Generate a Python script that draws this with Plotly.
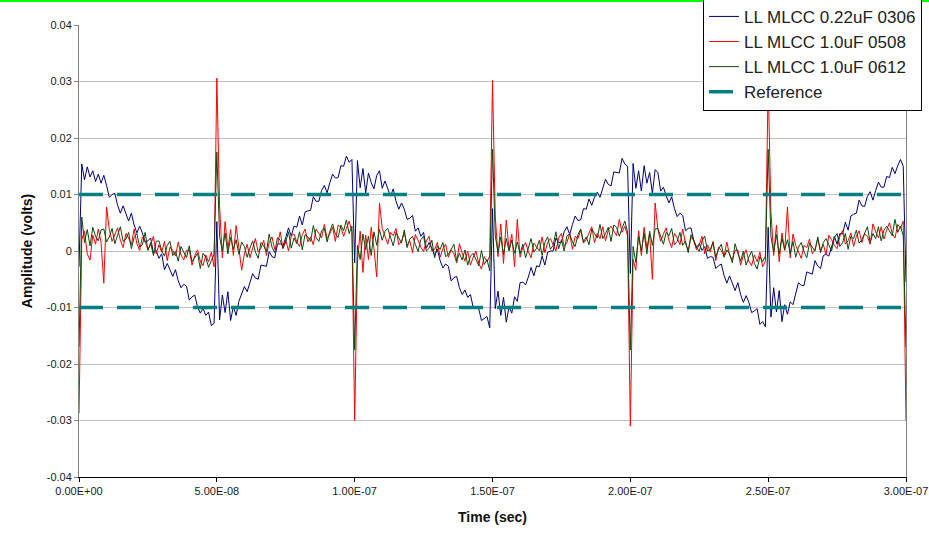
import plotly.graph_objects as go

# Sample grid: 1 ns steps from 0 to 300 ns
time_ns = list(range(0, 301))
time_s = [t * 1e-9 for t in time_ns]

# Measured amplitudes in millivolts, one value per nanosecond
mlcc_022uf_0306_mv = [
    -2.8, 15.4, 12.6, 14.9, 13.1, 14.2, 12.3, 13.6, 12.0, 13.4,
    11.6, 9.5, 10.0, 10.2, 8.1, 6.7, 8.0, 6.7, 5.3, 6.7,
    4.6, 3.2, 4.4, 3.2, 1.5, 1.8, 2.3, -0.4, 0.1, -1.3,
    -0.5, -3.3, -2.2, -3.3, -4.5, -3.3, -5.3, -6.5, -5.9, -6.2,
    -8.7, -8.1, -7.8, -9.9, -11.0, -10.1, -11.4, -10.8, -13.2, -12.8,
    5.2, -12.2, -7.8, -10.9, -7.2, -12.3, -9.8, -11.4, -8.9, -7.6,
    -6.3, -7.2, -5.5, -4.0, -4.8, -5.0, -2.5, -2.6, -2.7, -0.1,
    -1.0, -1.2, 1.2, 1.3, 0.9, 2.4, 4.1, 2.6, 4.4, 4.2,
    6.2, 4.6, 6.9, 7.1, 7.2, 9.6, 8.8, 8.8, 10.7, 11.6,
    10.3, 12.1, 13.6, 12.9, 13.0, 15.1, 15.0, 16.8, 15.7, 16.2,
    -2.1, 16.0, 11.2, 14.6, 10.3, 13.8, 12.1, 11.0, 13.4, 14.2,
    11.1, 12.4, 11.0, 9.7, 11.0, 8.8, 7.4, 8.5, 7.4, 5.6,
    5.8, 6.3, 3.5, 4.1, 2.6, 3.3, 0.5, 1.5, 0.5, -0.8,
    0.3, -1.7, -3.0, -2.3, -2.7, -5.3, -4.7, -4.5, -6.5, -7.7,
    -6.9, -8.2, -7.7, -10.0, -9.9, -10.2, -12.3, -11.9, -11.6, -13.6,
    7.5, -10.2, -7.1, -11.4, -8.2, -12.6, -9.9, -11.0, -8.1, -8.9,
    -5.6, -5.5, -6.0, -4.6, -2.9, -4.4, -2.6, -2.8, -0.9, -2.5,
    -0.2, 0.0, 0.0, 2.3, 1.5, 1.5, 3.4, 4.3, 2.9, 4.7,
    6.2, 5.4, 5.5, 7.5, 7.4, 9.2, 8.1, 9.5, 10.4, 9.5,
    11.2, 12.7, 11.8, 11.5, 14.0, 13.9, 13.8, 16.4, 15.4, 15.0,
    -4.0, 15.5, 11.1, 14.2, 10.6, 15.1, 12.0, 13.9, 10.2, 14.4,
    13.9, 10.6, 11.3, 9.8, 8.5, 9.6, 7.5, 6.1, 6.7, 6.3,
    3.6, 4.0, 4.1, 1.9, 0.6, 1.3, 0.1, 0.8, -1.3, -1.0,
    -1.1, -3.1, -2.6, -2.3, -4.3, -5.7, -4.4, -5.7, -7.0, -5.6,
    -7.7, -9.1, -7.9, -9.1, -10.9, -10.6, -10.2, -13.0, -12.5, -13.4,
    4.2, -11.7, -6.5, -10.8, -7.0, -12.5, -9.5, -11.2, -9.0, -9.5,
    -7.4, -5.6, -6.1, -6.1, -3.7, -3.9, -4.1, -1.7, -2.7, -3.1,
    -0.8, -0.6, -0.9, 0.7, 2.6, 1.2, 3.1, 3.0, 5.1, 3.7,
    6.2, 6.5, 6.7, 9.0, 8.0, 7.9, 9.7, 10.5, 9.0, 10.7,
    12.2, 11.3, 11.3, 13.2, 13.0, 14.8, 13.7, 15.1, 16.2, 15.0,
    -5.5,
]

mlcc_10uf_0508_mv = [
    -28.7, 2.0, 3.5, -0.5, -1.6, 2.8, 1.2, 3.9, 1.5, -5.7,
    7.8, 3.8, 1.7, 3.0, 4.1, 1.9, 0.6, 3.1, 2.3, 1.1,
    3.9, 1.3, 0.1, 2.5, 1.8, 0.2, 1.1, 2.6, -0.5, 1.1,
    -0.2, 1.7, -1.7, 0.7, 0.1, -0.9, 1.6, -0.7, -1.6, 0.1,
    0.2, -2.5, -0.8, 0.2, -1.8, -2.6, -0.7, -1.9, -0.2, -2.8,
    30.6, 8.0, -1.2, 5.2, 0.4, 3.8, -0.8, 4.5, 1.0, -3.4,
    -0.5, 1.2, -1.2, 0.5, 2.2, -0.2, 0.5, 1.9, -0.8, 1.5,
    2.5, 0.3, 1.0, 3.4, 0.4, 2.0, 0.0, 2.7, 3.0, 1.6,
    0.8, 2.9, 3.9, 1.6, 2.5, 1.1, 3.9, 3.1, 2.3, 4.7,
    2.2, 3.1, 4.2, 1.7, 4.6, 4.2, 2.6, 4.0, 5.3, 3.4,
    -30.0, -2.0, 3.5, -3.8, 2.8, -1.5, 4.2, 0.5, -4.6, 8.5,
    4.0, 2.6, 1.2, 3.3, 2.7, 4.0, 1.1, 1.7, 3.3, 1.0,
    1.8, -0.3, 2.9, 1.9, 0.7, -0.1, 1.8, 2.6, 0.0, 0.3,
    1.5, -1.1, 0.4, 1.2, -1.1, 0.2, -0.5, -2.1, 1.3, -0.4,
    -1.8, 0.0, -2.5, -1.1, 0.0, -2.2, -3.2, -1.0, -1.9, -0.9,
    30.2, 6.2, -1.0, 4.8, -2.2, 5.5, 0.2, 3.0, -2.8, 5.6,
    -1.1, 0.7, 1.5, -0.1, -1.2, 1.4, 0.7, 0.0, 2.5, -0.3,
    1.5, 2.2, 1.1, 0.0, 2.3, 3.1, 0.8, 1.5, 3.1, 0.3,
    2.6, 2.2, 3.7, 1.4, 2.0, 3.3, 4.3, 1.5, 3.1, 2.2,
    4.3, 1.8, 3.7, 4.4, 3.5, 2.7, 5.6, 3.3, 4.4, 2.7,
    -31.0, -1.5, -3.4, 3.6, -0.8, 4.2, 0.5, 3.0, -5.0, 8.5,
    3.8, 1.7, 3.0, 4.1, 1.9, 0.6, 3.1, 2.3, 1.1, 3.9,
    1.3, 0.1, 2.5, 1.8, 0.2, 1.1, 2.6, -0.5, 1.1, -0.2,
    1.7, -1.7, 0.7, 0.1, -0.9, 1.6, -0.7, -1.6, 0.1, 0.2,
    -2.5, -0.8, 0.2, -1.8, -2.6, -0.7, -1.9, -0.2, -2.8, -1.8,
    30.0, 7.0, -0.8, 4.6, -1.9, 3.2, 0.1, 7.8, -1.2, 3.0,
    1.0, -0.2, -1.3, 1.0, 0.6, 2.1, -0.5, 0.3, 2.1, 0.1,
    1.2, -0.7, 2.8, 2.0, 1.0, 0.4, 2.6, 3.6, 1.2, 1.8,
    3.2, 0.8, 2.6, 3.6, 1.5, 3.1, 2.6, 1.2, 4.8, 3.4,
    2.3, 4.3, 2.1, 3.7, 5.0, 3.1, 2.3, 4.7, 4.0, 5.3,
    -30.0,
]

mlcc_10uf_0612_mv = [
    -17.0, 6.0, 1.5, 3.8, 0.9, 4.2, 2.6, 1.8, 3.7, 3.9,
    1.6, 2.5, 4.0, 1.3, 2.8, 4.3, 1.7, 2.1, 3.3, 0.4,
    2.4, 3.1, 0.7, 1.1, 3.3, 0.1, 1.5, -0.8, 1.7, 1.8,
    0.1, -0.9, 1.0, 1.7, -0.8, -0.1, -1.8, 0.8, -0.2, -1.2,
    0.9, -1.9, -1.2, -0.4, -3.1, -0.4, -1.1, -2.9, -1.7, -0.6,
    17.5, 2.5, 0.0, 3.2, -0.5, 2.4, 0.3, 2.0, -0.6, 1.6,
    0.8, -1.1, 0.5, 1.8, -0.2, -1.3, 1.5, 0.9, -0.1, 3.0,
    0.7, -0.3, 2.4, 1.9, 0.5, 1.6, 3.4, 0.5, 2.3, 1.3,
    3.4, 0.2, 2.9, 2.5, 1.7, 4.5, 2.4, 1.7, 3.6, 4.0,
    1.6, 3.5, 4.8, 3.0, 2.4, 4.6, 3.6, 5.5, 3.1, 4.4,
    -17.5, 1.0, -1.5, 3.0, 0.2, 2.6, -0.8, 3.4, 1.0, 3.8,
    1.9, 3.5, 4.0, 2.2, 0.9, 3.3, 2.3, 1.4, 3.7, 0.6,
    2.1, 2.6, 1.2, -0.1, 2.0, 2.6, 0.0, 0.5, 1.9, -1.2,
    0.9, 0.3, 1.5, -1.0, -0.6, 0.4, 1.2, -1.8, -0.4, -1.6,
    0.2, -2.5, -0.9, -0.4, -1.5, -2.6, 0.1, -2.4, -1.5, -3.5,
    18.0, 2.8, -0.3, 2.5, -0.6, 2.2, 0.0, 1.9, -0.4, 1.6,
    -0.5, 1.2, -1.2, 0.5, 2.2, -0.2, 0.5, 1.9, -0.8, 1.5,
    2.5, 0.3, 1.0, 3.4, 0.4, 2.0, 0.0, 2.7, 3.0, 1.6,
    0.8, 2.9, 3.9, 1.6, 2.5, 1.1, 3.9, 3.1, 2.3, 4.7,
    2.2, 3.1, 4.2, 1.7, 4.6, 4.2, 2.6, 4.0, 5.3, 3.4,
    -17.5, 0.8, -2.0, 2.6, 0.0, 3.2, -0.5, 3.5, 1.0, 3.9,
    4.0, 2.6, 1.2, 3.3, 2.7, 4.0, 1.1, 1.7, 3.3, 1.0,
    1.8, -0.3, 2.9, 1.9, 0.7, -0.1, 1.8, 2.6, 0.0, 0.3,
    1.5, -1.1, 0.4, 1.2, -1.1, 0.2, -0.5, -2.1, 1.3, -0.4,
    -1.8, 0.0, -2.5, -1.1, 0.0, -2.2, -3.2, -1.0, -1.9, -0.9,
    18.0, 2.6, -0.2, 2.9, -0.5, 2.3, 0.2, 2.0, -0.5, 1.7,
    -1.1, 0.7, 1.5, -0.1, -1.2, 1.4, 0.7, 0.0, 2.5, -0.3,
    1.5, 2.2, 1.1, 0.0, 2.3, 3.1, 0.8, 1.5, 3.1, 0.3,
    2.6, 2.2, 3.7, 1.4, 2.0, 3.3, 4.3, 1.5, 3.1, 2.2,
    4.3, 1.8, 3.7, 4.4, 3.5, 2.7, 5.6, 3.3, 4.4, 2.7,
    -17.0,
]

# Reference limits (volts)
ref_upper = 0.01
ref_lower = -0.01

# Axis ticks
x_tickvals = [0, 5e-8, 1e-7, 1.5e-7, 2e-7, 2.5e-7, 3e-7]
x_ticktext = ["0.00E+00", "5.00E-08", "1.00E-07", "1.50E-07", "2.00E-07", "2.50E-07", "3.00E-07"]
y_tickvals = [0.04, 0.03, 0.02, 0.01, 0, -0.01, -0.02, -0.03, -0.04]
y_ticktext = ["0.04", "0.03", "0.02", "0.01", "0", "-0.01", "-0.02", "-0.03", "-0.04"]

FONT = "Liberation Sans, Arial, sans-serif"


def to_volts(values_mv):
    return [v / 1000.0 for v in values_mv]


series = [
    ("LL MLCC 0.22uF 0306", mlcc_022uf_0306_mv, "#000080"),
    ("LL MLCC 1.0uF 0508", mlcc_10uf_0508_mv, "#FF0000"),
    ("LL MLCC 1.0uF 0612", mlcc_10uf_0612_mv, "#0B4A0B"),
]

fig = go.Figure()
for name, values, color in series:
    fig.add_trace(go.Scatter(
        x=time_s, y=to_volts(values), mode="lines", name=name,
        line=dict(color=color, width=1),
    ))

t_end = time_s[-1]
fig.add_trace(go.Scatter(
    x=[0, t_end, None, 0, t_end],
    y=[ref_upper, ref_upper, None, ref_lower, ref_lower],
    mode="lines", name="Reference", connectgaps=False,
    line=dict(color="#008080", width=3.5, dash="24px,14px"),
))

fig.update_layout(
    width=929, height=533,
    margin=dict(l=79, r=23, t=25, b=56, autoexpand=False),
    paper_bgcolor="white", plot_bgcolor="white",
    font=dict(family=FONT, size=11, color="#1a1a1a"),
    showlegend=True,
    legend=dict(
        x=0.7545, y=1.06, xanchor="left", yanchor="top",
        bgcolor="white", bordercolor="#000000", borderwidth=1,
        font=dict(family=FONT, size=17, color="#222222"),
        tracegroupgap=0, itemwidth=30,
    ),
    xaxis=dict(
        range=[0, 3e-7], tickvals=x_tickvals, ticktext=x_ticktext,
        showgrid=False, zeroline=False,
        showline=True, linecolor="#000000", linewidth=1,
        ticks="outside", ticklen=4, tickcolor="#000000",
        title=dict(text="<b>Time (sec)</b>", font=dict(family=FONT, size=14, color="#111111"), standoff=15),
    ),
    yaxis=dict(
        range=[-0.04, 0.04], tickvals=y_tickvals, ticktext=y_ticktext,
        showgrid=True, gridcolor="#C0C0C0", gridwidth=1, zeroline=False,
        showline=True, linecolor="#808080", linewidth=1, mirror=True,
        ticks="outside", ticklen=4, tickcolor="#808080",
        title=dict(text="<b>Amplitude (volts)</b>", font=dict(family=FONT, size=14, color="#111111"), standoff=10),
    ),
    shapes=[dict(
        type="line", xref="paper", yref="paper",
        x0=-0.1, x1=1.1, y0=1 + 24 / 452, y1=1 + 24 / 452,
        line=dict(color="#00FF00", width=2), layer="above",
    )],
)

fig.write_html("out.html")
